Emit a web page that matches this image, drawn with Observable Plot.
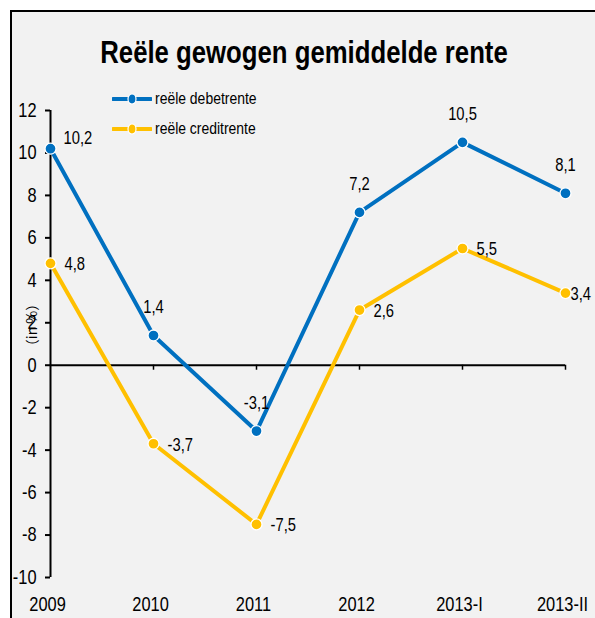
<!DOCTYPE html>
<html><head><meta charset="utf-8">
<script src="https://cdn.jsdelivr.net/npm/d3@7"></script>
<script src="https://cdn.jsdelivr.net/npm/@observablehq/plot@0.6"></script>
<style>
html,body{margin:0;padding:0;background:#fff;width:595px;height:618px;overflow:hidden}
#wrap{position:relative;width:595px;height:618px;overflow:hidden}
#panel{position:absolute;left:10px;top:10px;width:600px;height:620px;background:#f2f2f2;border-left:2px solid #000;border-top:2px solid #000}
#title{position:absolute;left:304px;top:37px;line-height:31px;font-weight:bold;font-size:31px;font-family:"Liberation Sans","Arial",sans-serif;color:#000;white-space:nowrap;transform:translateX(-50%) scaleX(0.83)}
#legend{position:absolute;left:112px;top:88px;font-family:"Liberation Sans","Arial",sans-serif;font-size:17px;color:#000}
.item{display:flex;align-items:center;height:22px;margin-bottom:8px}
.item svg{margin-right:3px}
.item span{display:inline-block;transform:scaleX(0.82);transform-origin:left center}
#ylab{position:absolute;left:31px;top:325px;transform:translate(-50%,-50%) rotate(-90deg);font-family:"Noto Sans CJK SC",serif;font-size:14px;color:#000;white-space:nowrap}
#chart{position:absolute;left:0;top:0}
</style></head>
<body><div id="wrap"><div id="panel"></div><div id="chart"></div><div id="title"></div><div id="legend"></div><div id="ylab"></div></div>
<script>
const title = "Reële gewogen gemiddelde rente";
const yLabel = "（in %）";
const categories = ["2009", "2010", "2011", "2012", "2013-I", "2013-II"];
const seriesNames = ["reële debetrente", "reële creditrente"];
const debetrente = [10.2, 1.4, -3.1, 7.2, 10.5, 8.1];
const creditrente = [4.8, -3.7, -7.5, 2.6, 5.5, 3.4];
const yTicks = [-10, -8, -6, -4, -2, 0, 2, 4, 6, 8, 10, 12];
const colors = ["#0070C0", "#FFC000"];

const fmt = v => v.toFixed(1).replace(".", ",");

const rows = [];
[debetrente, creditrente].forEach((vals, s) => {
  vals.forEach((v, i) => rows.push({cat: categories[i], value: v, series: seriesNames[s], i}));
});
const last = categories.length - 1;
const blue = rows.filter(d => d.series === seriesNames[0]);
const yellow = rows.filter(d => d.series === seriesNames[1]);

document.getElementById("title").textContent = title;
document.getElementById("ylab").textContent = yLabel;
const legend = document.getElementById("legend");
seriesNames.forEach((name, s) => {
  const div = document.createElement("div");
  div.className = "item";
  div.innerHTML = `<svg width="40" height="12"><line x1="1" x2="39" y1="6" y2="6" stroke="${colors[s]}" stroke-width="4" stroke-linecap="round"/><ellipse cx="20" cy="6" rx="4" ry="5" fill="${colors[s]}" stroke="#fff" stroke-width="1.2"/></svg><span>${name}</span>`;
  legend.appendChild(div);
});

const chart = Plot.plot({
  width: 595,
  height: 618,
  marginLeft: 50,
  marginRight: 30,
  marginTop: 110,
  marginBottom: 41,
  style: {background: "transparent", fontFamily: '"Liberation Sans", Arial, sans-serif', color: "#000", overflow: "visible"},
  x: {type: "point", domain: categories, padding: 0},
  y: {domain: [-10, 12]},
  color: {domain: seriesNames, range: colors},
  marks: [
    Plot.ruleX([categories[0]], {stroke: "#000", strokeWidth: 2}),
    Plot.ruleY([0], {stroke: "#000", strokeWidth: 2}),
    Plot.ruleX(categories.slice(1), {x: d => d, y1: 0, y2: 0, insetBottom: -5, stroke: "#000", strokeWidth: 1.5}),
    Plot.axisY({ticks: yTicks, tickSize: 5, tickPadding: 9, tickFormat: d => String(d), fontSize: 20, strokeWidth: 2, label: null}),
    Plot.axisX({tickSize: 0, tickPadding: 19, fontSize: 20, label: null, dx: -3}),
    Plot.line(rows, {x: "cat", y: "value", z: "series", stroke: "series", strokeWidth: 4}),
    Plot.dot(rows, {x: "cat", y: "value", fill: "series", stroke: "#fff", strokeWidth: 1.3, r: 5.5}),
    Plot.text(blue.filter(d => d.i === 0), {x: "cat", y: "value", text: d => fmt(d.value), textAnchor: "start", dx: 13, dy: -10, fontSize: 18, fill: "#000"}),
    Plot.text(blue.filter(d => d.i > 0), {x: "cat", y: "value", text: d => fmt(d.value), textAnchor: "middle", dy: -28, fontSize: 18, fill: "#000"}),
    Plot.text(yellow.filter(d => d.i < last), {x: "cat", y: "value", text: d => fmt(d.value), textAnchor: "start", dx: 14, dy: 1, fontSize: 18, fill: "#000"}),
    Plot.text(yellow.filter(d => d.i === last), {x: "cat", y: "value", text: d => fmt(d.value), textAnchor: "start", dx: 5, dy: 1, fontSize: 18, fill: "#000"})
  ]
});
document.getElementById("chart").appendChild(chart);
// condense glyphs horizontally (narrow typeface look)
chart.querySelectorAll("text").forEach(t => {
  const w = t.getComputedTextLength();
  if (w > 0) {
    t.setAttribute("textLength", (w * 0.82).toFixed(2));
    t.setAttribute("lengthAdjust", "spacingAndGlyphs");
  }
});
</script>
</body></html>
